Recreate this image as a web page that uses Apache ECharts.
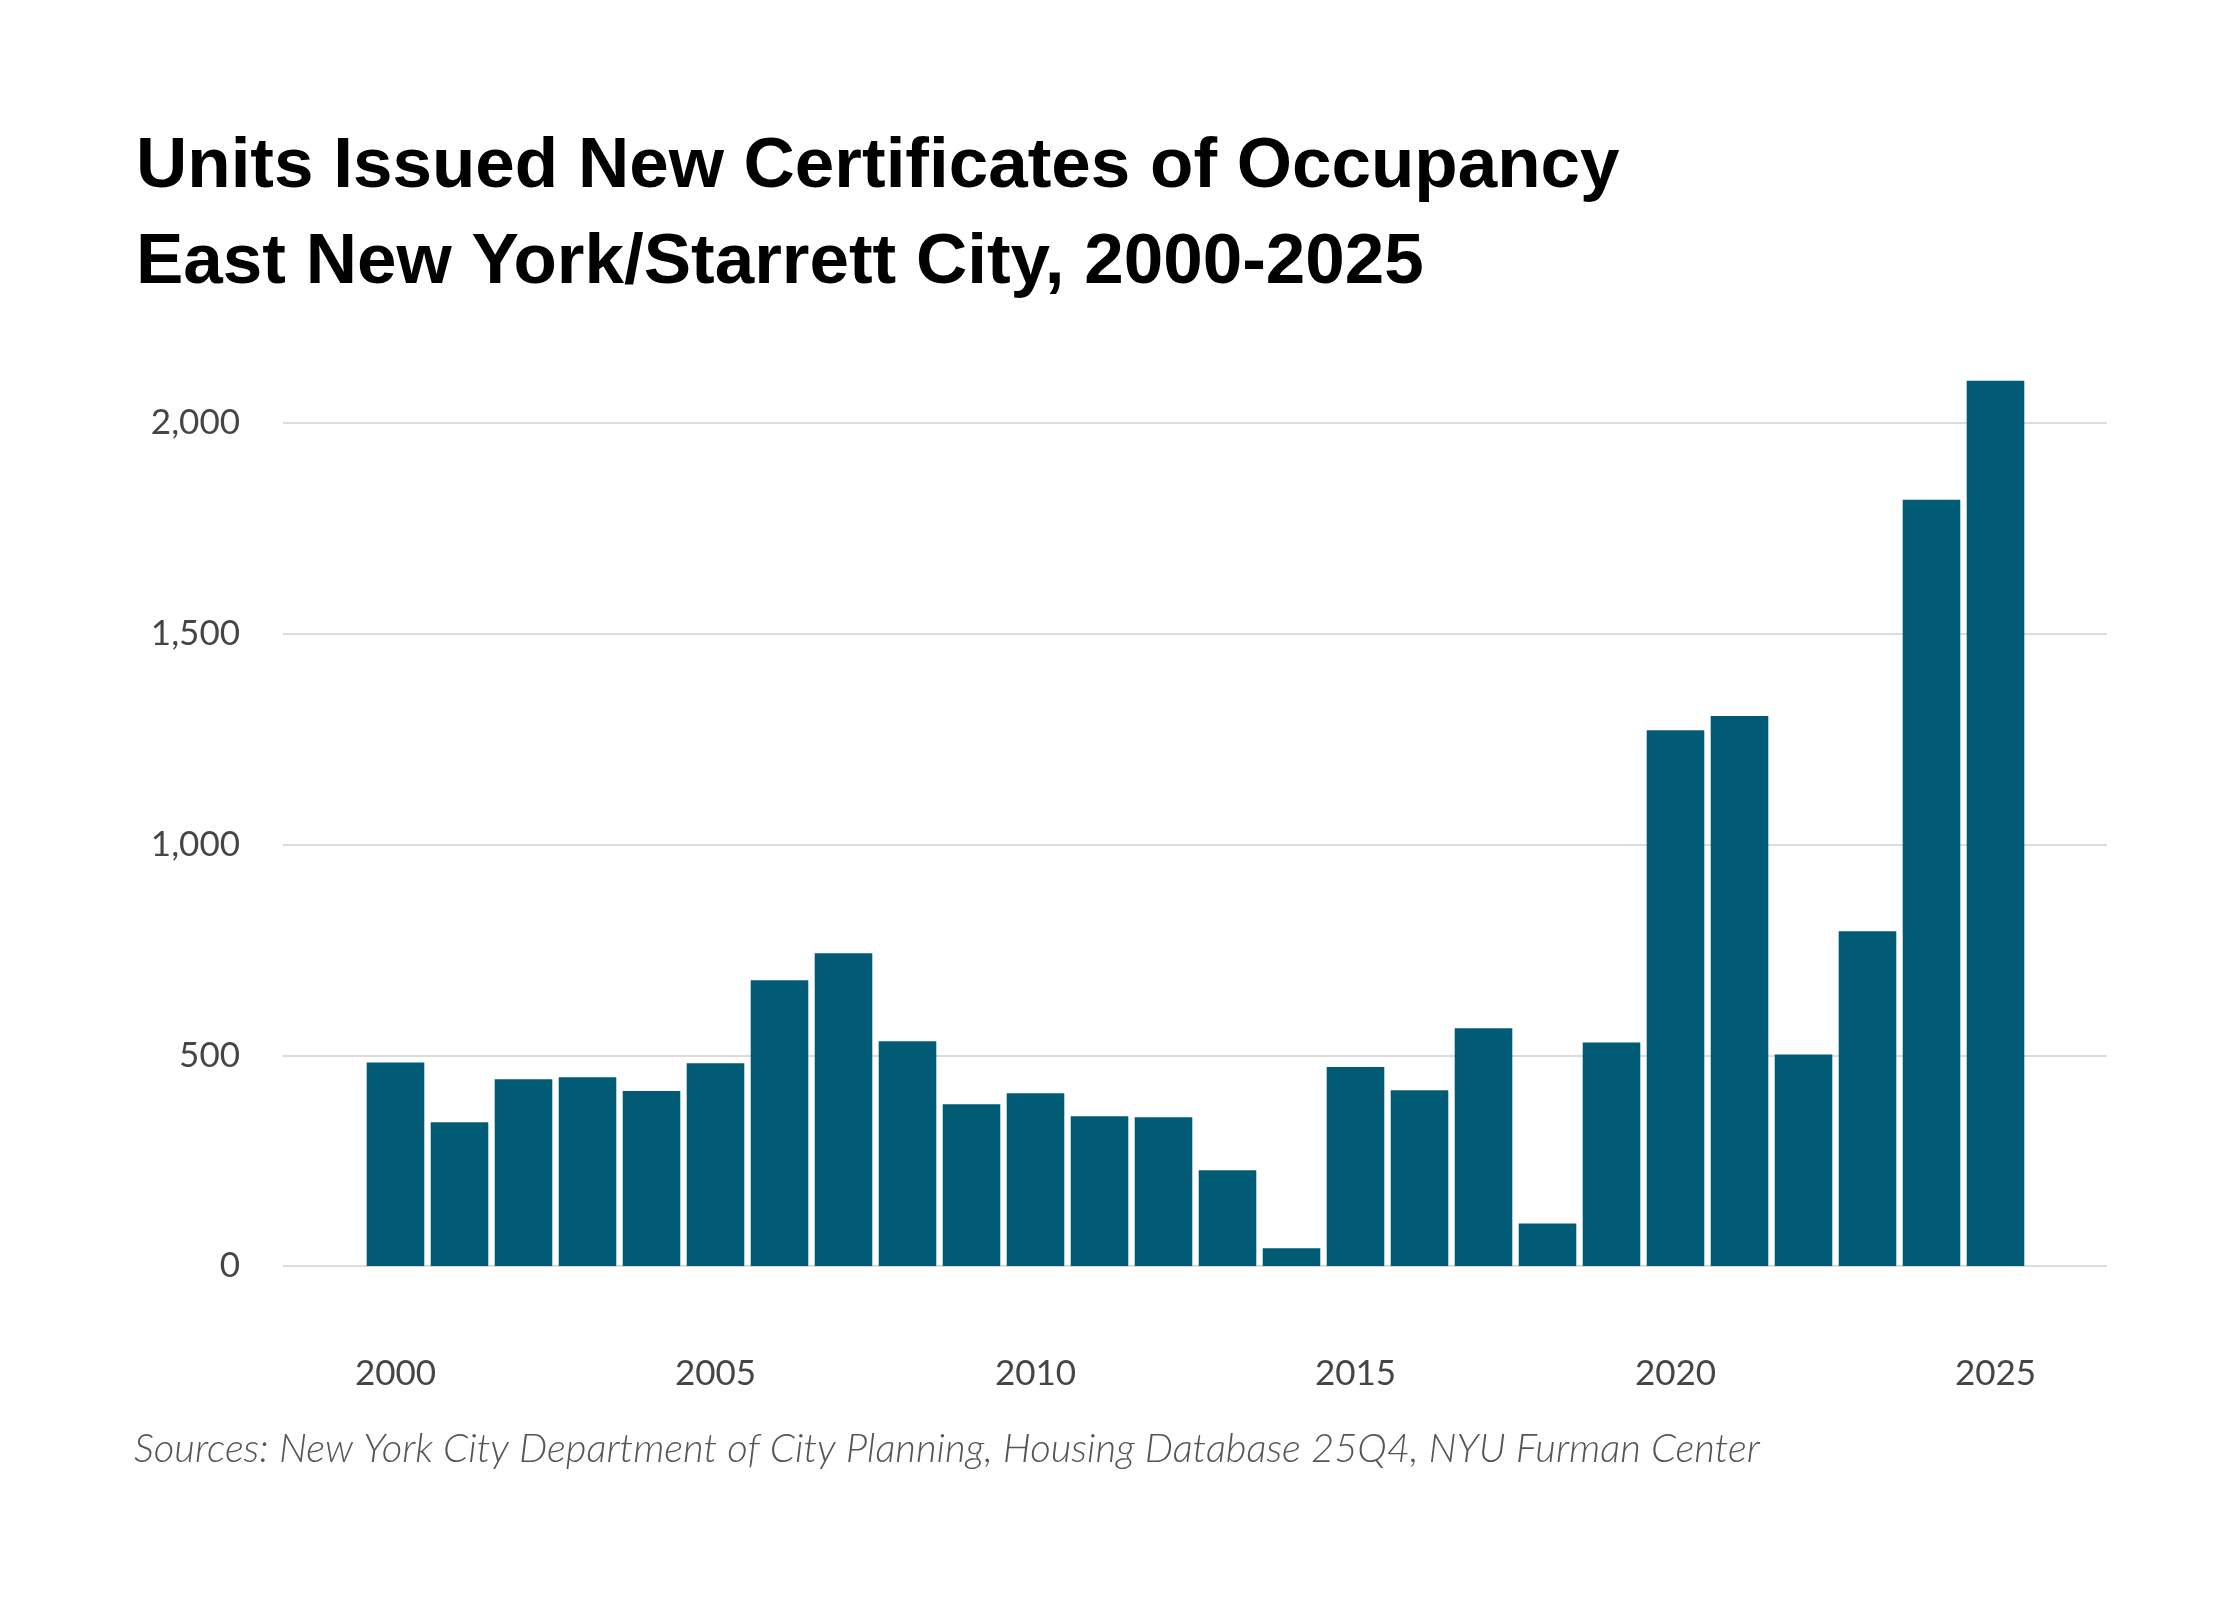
<!DOCTYPE html>
<html>
<head>
<meta charset="utf-8">
<script src="https://cdn.jsdelivr.net/npm/echarts@6/dist/echarts.min.js"></script>
<style>
html,body{margin:0;padding:0;background:#fff;}
#chart{width:2240px;height:1600px;}
</style>
</head>
<body>
<div id="chart"></div>
<script>
const years = ['2000','2001','2002','2003','2004','2005','2006','2007','2008','2009','2010','2011','2012','2013','2014','2015','2016','2017','2018','2019','2020','2021','2022','2023','2024','2025'];
const units = [483,341,443,448,415,481,678,742,533,384,410,355,353,227,42,472,417,564,101,530,1271,1305,502,794,1818,2100];
const yTicks = [0,500,1000,1500,2000];
const titleLine1 = 'Units Issued New Certificates of Occupancy';
const titleLine2 = 'East New York/Starrett City, 2000-2025';
const sourceText = 'Sources: New York City Department of City Planning, Housing Database 25Q4, NYU Furman Center';

const chart = echarts.init(document.getElementById('chart'), null, {renderer:'canvas'});
const pxPerUnit = (1266-423)/2000;
const barMax = 2200;
const labelFont = {fontFamily:'Lato, sans-serif', fontSize:35, color:'#454545'};
const option = {
  animation:false,
  backgroundColor:'#ffffff',
  title:[
    {text:titleLine1+'\n'+titleLine2, left:131, top:114,
     textStyle:{fontFamily:'Liberation Sans, Arial, sans-serif', fontWeight:'bold', fontSize:71, color:'#000', lineHeight:96}},
    {text:sourceText, left:129, top:1424,
     textStyle:{fontFamily:'Lato, sans-serif', fontStyle:'italic', fontWeight:300, fontSize:40, color:'#555'}}
  ],
  grid:[
    {left:283, right:133, top:423, bottom:334},
    {left:363.5, right:212.5, top:1266-barMax*pxPerUnit, bottom:334}
  ],
  xAxis:[
    {gridIndex:0, type:'value', show:false, min:0, max:1},
    {gridIndex:1, type:'category', data:years,
     axisLine:{show:false}, axisTick:{show:false},
     axisLabel:Object.assign({interval:function(i,v){return (+v)%5===0;}, margin:90}, labelFont)}
  ],
  yAxis:[
    {gridIndex:0, type:'value', min:yTicks[0], max:yTicks[yTicks.length-1], interval:500,
     axisLine:{show:false}, axisTick:{show:false},
     splitLine:{lineStyle:{color:'#d0d0d0', width:1.5}},
     axisLabel:Object.assign({margin:43,
       formatter:function(v){return v.toLocaleString('en-US');}}, labelFont)},
    {gridIndex:1, type:'value', min:0, max:barMax, show:false}
  ],
  series:[
    {type:'bar', xAxisIndex:1, yAxisIndex:1, data:units, barCategoryGap:'10%',
     itemStyle:{color:'#015b75'}}
  ]
};
chart.setOption(option);
</script>
</body>
</html>
